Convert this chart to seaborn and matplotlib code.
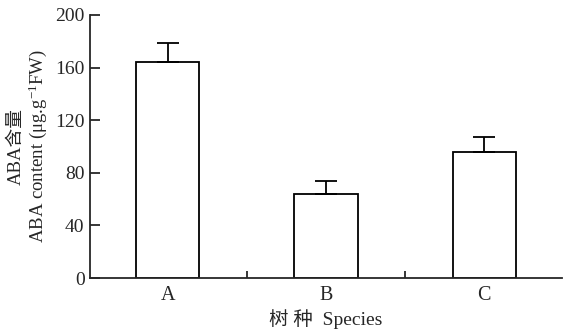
import matplotlib
matplotlib.use("Agg")
import matplotlib.pyplot as plt
import seaborn as sns
import pandas as pd

species = ["A", "B", "C"]
aba = [164, 64, 96]
aba_err = [15, 10, 11]
y_ticks = [0, 40, 80, 120, 160, 200]

sns.set_style("ticks")
plt.rcParams['font.family'] = ['Liberation Serif', 'Noto Sans CJK SC', 'DejaVu Sans']
plt.rcParams['mathtext.fontset'] = 'custom'
plt.rcParams['mathtext.rm'] = 'Liberation Serif'
plt.rcParams['mathtext.it'] = 'Liberation Serif'
plt.rcParams['axes.linewidth'] = 1.3

df = pd.DataFrame({"Species": species, "ABA": aba})

fig = plt.figure(figsize=(5.63, 3.33), dpi=100)
ax = fig.add_axes([0.160, 0.165, 0.838, 0.790])

sns.barplot(data=df, x="Species", y="ABA", color="white", edgecolor="black",
            linewidth=1.3, width=0.40, errorbar=None, ax=ax)
ax.errorbar(range(len(species)), aba, yerr=[[0] * len(aba), aba_err], fmt="none",
            ecolor="black", elinewidth=1.3, capsize=8, capthick=1.3)

ax.set_ylim(0, 200)
ax.set_xlim(-0.49, 2.49)
ax.set_yticks(y_ticks)
ax.set_xticks([0.5, 1.5], minor=True)
ax.tick_params(axis="y", direction="in", length=7, width=1.3, labelsize=14, pad=4)
ax.tick_params(axis="x", which="major", length=0, labelsize=14.5, pad=6)
ax.tick_params(axis="x", which="minor", direction="in", length=5, width=1.3)

ax.set_xlabel("树 种  Species", fontsize=14, labelpad=3)
ax.set_ylabel("ABA含量\nABA content (μg.g$^{-1}$FW)", fontsize=13.5, labelpad=4,
              linespacing=1.1)

sns.despine(ax=ax)
fig.savefig("out.png", dpi=100)
